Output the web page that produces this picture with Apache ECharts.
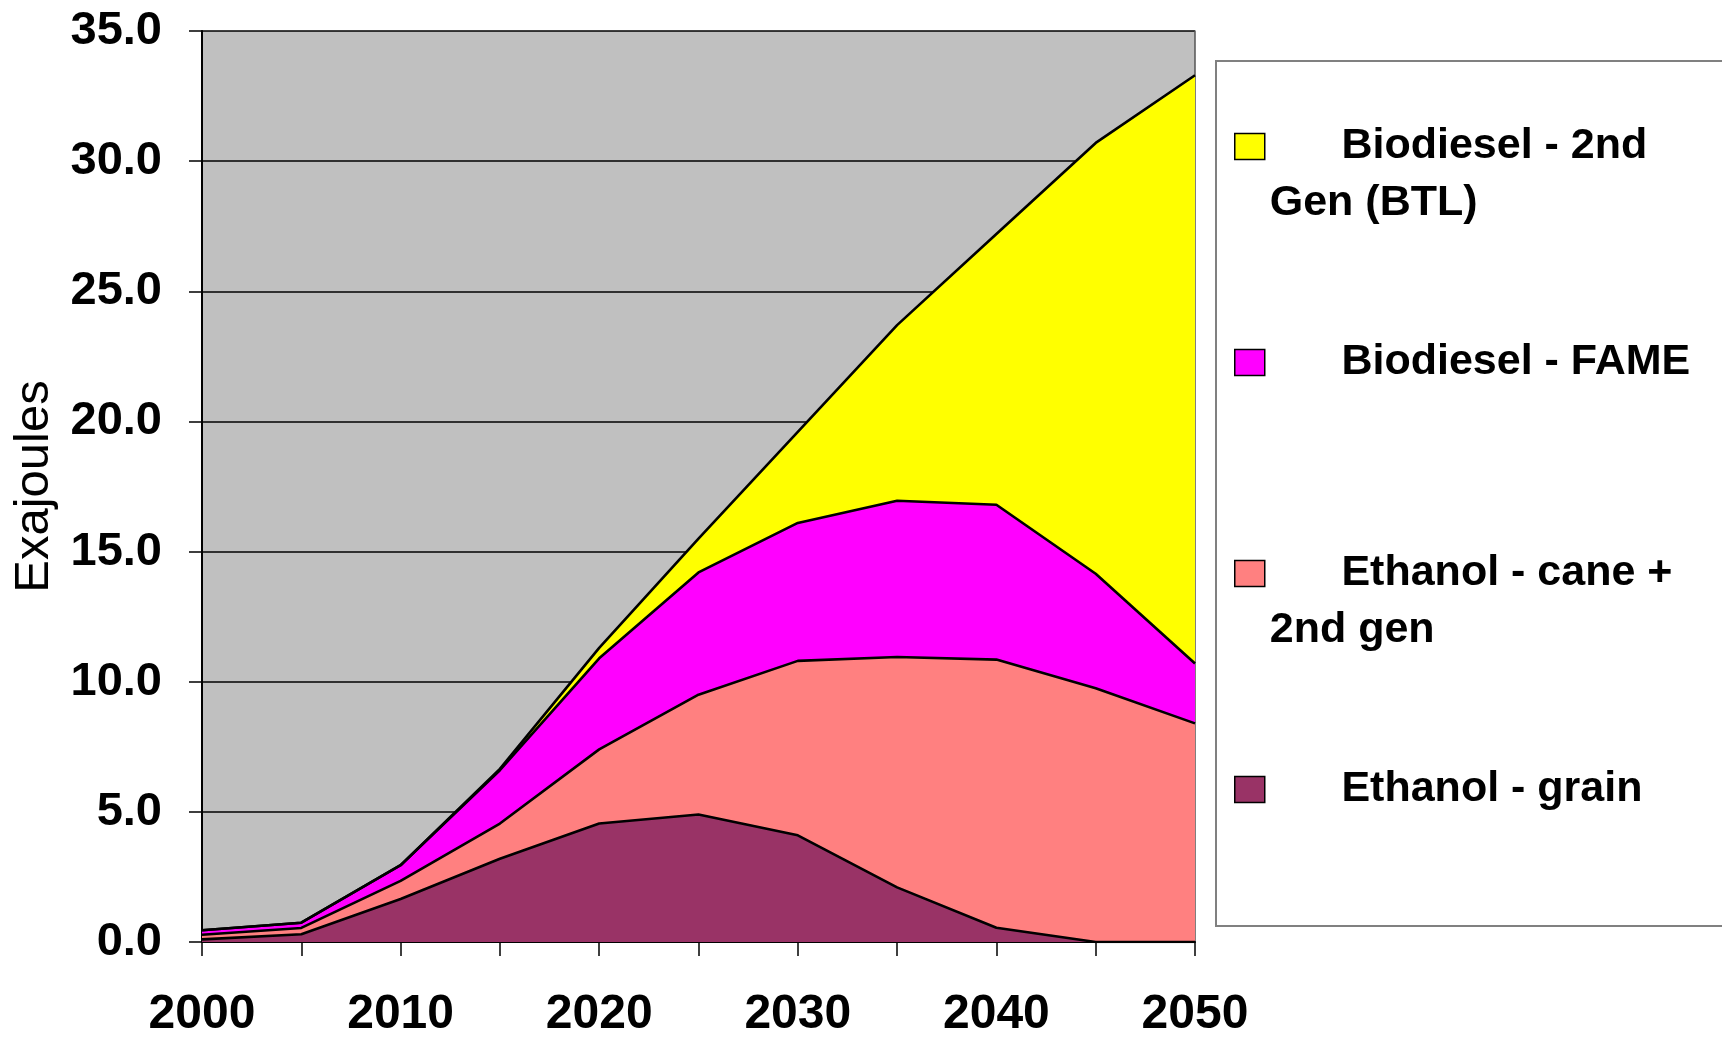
<!DOCTYPE html>
<html><head><meta charset="utf-8">
<script src="https://cdn.jsdelivr.net/npm/echarts@6/dist/echarts.min.js"></script>
<style>html,body{margin:0;padding:0;background:#fff}#c{width:1722px;height:1037px}</style>
</head><body><div id="c"></div>
<script>
const years = ['2000','2005','2010','2015','2020','2025','2030','2035','2040','2045','2050'];
const ethanolGrain = [0.1, 0.3, 1.65, 3.2, 4.55, 4.9, 4.1, 2.1, 0.55, 0.0, 0.0];
const ethanolCane = [0.18, 0.24, 0.7, 1.35, 2.85, 4.6, 6.7, 8.85, 10.3, 9.75, 8.4];
const biodieselFame = [0.17, 0.2, 0.6, 2.05, 3.5, 4.7, 5.3, 6.0, 5.95, 4.4, 2.3];
const biodieselBtl = [0.0, 0.0, 0.0, 0.05, 0.4, 1.3, 3.5, 6.75, 10.4, 16.55, 22.6];
const yTicks = {min: 0, max: 35, interval: 5};
const names = {
  btl: 'Biodiesel - 2nd Gen (BTL)',
  fame: 'Biodiesel - FAME',
  cane: 'Ethanol - cane + 2nd gen',
  grain: 'Ethanol - grain'
};
const legendText = {
  [names.btl]: '\n      Biodiesel - 2nd\nGen (BTL)',
  [names.fame]: '      Biodiesel - FAME',
  [names.cane]: '\n      Ethanol - cane +\n2nd gen',
  [names.grain]: '      Ethanol - grain'
};

const chart = echarts.init(document.getElementById('c'));
const font = '"Liberation Sans", Arial, sans-serif';
function mkSeries(name, data, color) {
  return {
    name, type: 'line', stack: 'total', data, symbol: 'none',
    itemStyle: {color},
    lineStyle: {color: '#000', width: 2.6},
    areaStyle: {color, opacity: 1},
    emphasis: {disabled: true}
  };
}
function mkLegend(name, top) {
  return {
    data: [name], left: 1229, top, icon: 'rect', itemWidth: 30, itemHeight: 26,
    itemStyle: {borderColor: '#000', borderWidth: 1.5},
    formatter: n => legendText[n],
    textStyle: {fontFamily: font, fontWeight: 'bold', fontSize: 43, color: '#000', lineHeight: 57},
    selectedMode: false
  };
}
chart.setOption({
  animation: false,
  backgroundColor: '#fff',
  grid: {left: 202, right: 527, top: 31, bottom: 95, show: true, backgroundColor: '#C0C0C0', borderWidth: 0,
    outerBoundsMode: 'none', containLabel: false},
  graphic: [{
    type: 'rect', left: 1215, top: 60,
    shape: {width: 560, height: 865},
    style: {fill: '#fff', stroke: '#808080', lineWidth: 2}, z: -1
  }],
  legend: [
    mkLegend(names.btl, 56),
    mkLegend(names.fame, 329),
    mkLegend(names.cane, 483),
    mkLegend(names.grain, 756)
  ],
  xAxis: {
    type: 'category', data: years, boundaryGap: false,
    axisLine: {lineStyle: {color: '#000', width: 2}},
    axisTick: {show: true, interval: 0, length: 14, lineStyle: {color: '#000', width: 1.5}},
    axisLabel: {interval: 1, margin: 49, fontFamily: font, fontWeight: 'bold', fontSize: 48, color: '#000'},
    splitLine: {show: false}
  },
  yAxis: [{
    type: 'value', min: yTicks.min, max: yTicks.max, interval: yTicks.interval,
    name: 'Exajoules', nameLocation: 'middle', nameGap: 143, nameRotate: 90,
    nameTextStyle: {fontFamily: font, fontSize: 49, color: '#000', fontWeight: 500},
    axisLine: {show: true, lineStyle: {color: '#000', width: 2}},
    axisTick: {show: true, length: 13, lineStyle: {color: '#000', width: 1.5}},
    axisLabel: {margin: 40, fontFamily: font, fontWeight: 'bold', fontSize: 47, color: '#000',
      formatter: v => v.toFixed(1)},
    splitLine: {show: true, lineStyle: {color: '#000', width: 1.5}}
  }, {
    type: 'value', position: 'right', min: yTicks.min, max: yTicks.max, interval: yTicks.interval,
    axisLine: {show: true, lineStyle: {color: '#555', width: 1.5}},
    axisTick: {show: false}, axisLabel: {show: false}, splitLine: {show: false}
  }],
  series: [
    mkSeries(names.grain, ethanolGrain, '#993366'),
    mkSeries(names.cane, ethanolCane, '#FF8080'),
    mkSeries(names.fame, biodieselFame, '#FF00FF'),
    mkSeries(names.btl, biodieselBtl, '#FFFF00')
  ]
});
</script></body></html>
